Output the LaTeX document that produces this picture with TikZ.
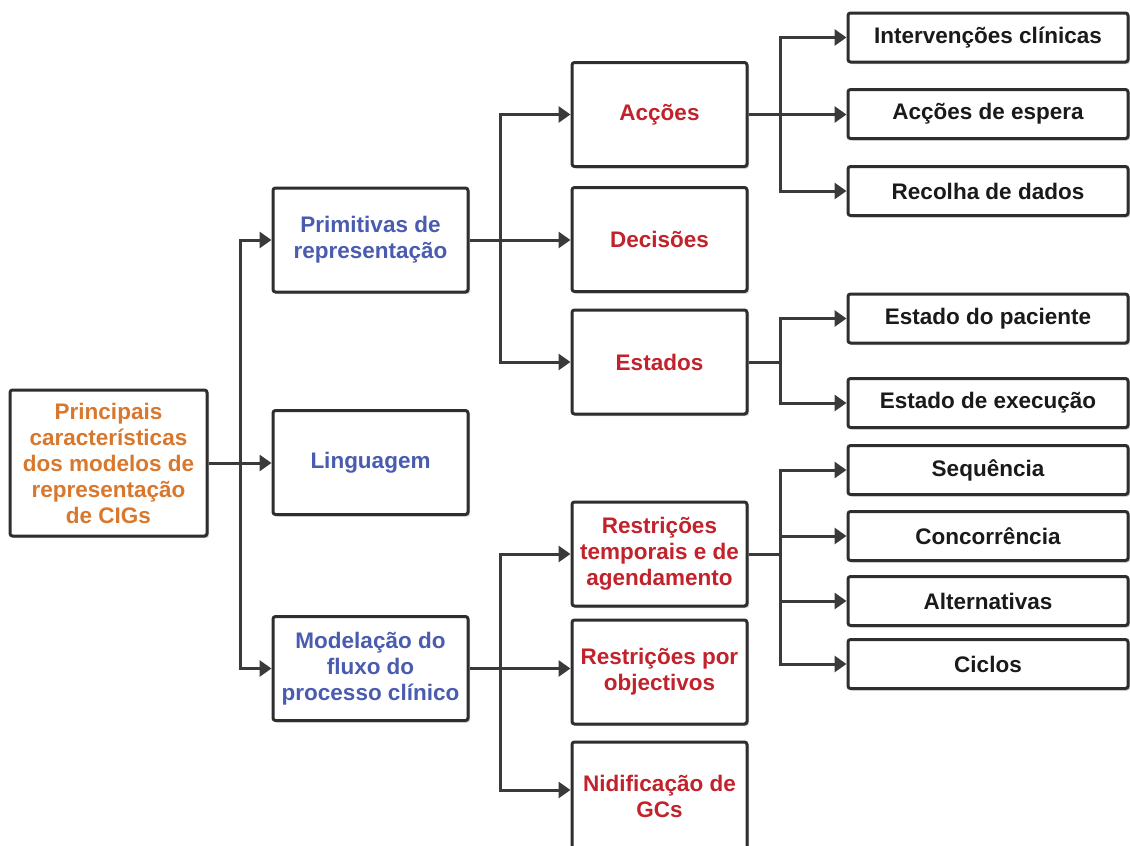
\documentclass[tikz,border=0pt]{standalone}
\usepackage{fontspec}
\setmainfont{Liberation Sans}
\usetikzlibrary{arrows.meta,shadows}

\definecolor{boxline}{HTML}{2E2E2E}
\definecolor{edge}{HTML}{3A3A3A}
\definecolor{txtorange}{HTML}{D9782D}
\definecolor{txtblue}{HTML}{4A5CB0}
\definecolor{txtred}{HTML}{C1222B}
\definecolor{txtblack}{HTML}{1A1A1A}

\begin{document}
\begin{tikzpicture}[x=1pt,y=-1pt,
  box/.style={draw=boxline, line width=3pt, rounded corners=2.5pt, fill=white,
    align=center, inner sep=0pt,
    font=\fontsize{22.5}{26}\selectfont\bfseries,
    drop shadow={shadow xshift=2pt, shadow yshift=-2pt, opacity=0.18, fill=black}},
  rootbox/.style={box, minimum width=197pt, minimum height=146pt, text=txtorange},
  midbox/.style={box, minimum width=195pt, minimum height=104pt, text=txtblue},
  subbox/.style={box, minimum width=175pt, minimum height=104pt, text=txtred},
  leafbox/.style={box, minimum width=280pt, minimum height=49pt, text=txtblack},
  conn/.style={draw=edge, line width=3pt, -{Triangle[length=12pt,width=16pt]}},
  link/.style={draw=edge, line width=3pt},
]
\useasboundingbox (0,0) rectangle (1130,846);

% root
\node[rootbox] (main) at (108.5,463) {Principais\\características\\dos modelos de\\representação\\de CIGs};

% first level
\node[midbox] (prim)  at (370.5,240)   {Primitivas de\\representação};
\node[midbox] (ling)  at (370.5,462.5) {Linguagem};
\node[midbox] (model) at (370.5,668.5) {Modelação do\\fluxo do\\processo clínico};

% second level
\node[subbox] (acc) at (659.5,114.5) {Acções};
\node[subbox] (dec) at (659.5,239.5) {Decisões};
\node[subbox] (est) at (659.5,362)   {Estados};
\node[subbox] (rt)  at (659.5,554)   {Restrições\\temporais e de\\agendamento};
\node[subbox] (ro)  at (659.5,672)   {Restrições por\\objectivos};
\node[subbox, minimum height=108pt] (nid) at (659.5,796) {Nidificação de\\GCs};

% third level
\node[leafbox] (int) at (988,37.5)  {Intervenções clínicas};
\node[leafbox] (esp) at (988,114)   {Acções de espera};
\node[leafbox] (rec) at (988,191)   {Recolha de dados};
\node[leafbox] (pac) at (988,318.5) {Estado do paciente};
\node[leafbox] (exe) at (988,403)   {Estado de execução};
\node[leafbox] (seq) at (988,470)   {Sequência};
\node[leafbox] (con) at (988,536)   {Concorrência};
\node[leafbox] (alt) at (988,601)   {Alternativas};
\node[leafbox] (cic) at (988,664)   {Ciclos};

% branch points
\coordinate (j1) at (240,463);
\coordinate (j2) at (500,240);
\coordinate (j3) at (500,668.5);
\coordinate (j4) at (780,114.5);
\coordinate (j5) at (780,362);
\coordinate (j6) at (780,554);

% root to first level
\draw[conn] (main.east) -- (main.east -| ling.west);
\draw[conn] (j1) |- (prim.west);
\draw[conn] (j1) |- (model.west);

% representation primitives
\draw[conn] (prim.east) -- (prim.east -| dec.west);
\draw[conn] (j2) |- (acc.west);
\draw[conn] (j2) |- (est.west);

% clinical process flow
\draw[conn] (model.east) -- (model.east -| ro.west);
\draw[conn] (j3) |- (rt.west);
\draw[conn] (j3) |- ([yshift=6pt]nid.west);

% actions
\draw[conn] (acc.east) -- (acc.east -| esp.west);
\draw[conn] (j4) |- (int.west);
\draw[conn] (j4) |- (rec.west);

% states
\draw[link] (est.east) -- (j5);
\draw[conn] (j5) |- (pac.west);
\draw[conn] (j5) |- (exe.west);

% temporal constraints
\draw[link] (rt.east) -- (j6);
\draw[conn] (j6) |- (seq.west);
\draw[conn] (j6) |- (con.west);
\draw[conn] (j6) |- (alt.west);
\draw[conn] (j6) |- (cic.west);
\end{tikzpicture}
\end{document}
